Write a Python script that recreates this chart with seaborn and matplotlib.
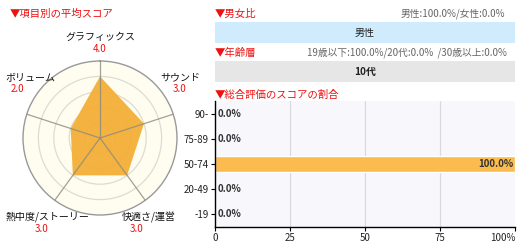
import numpy as np
import pandas as pd
import matplotlib
matplotlib.use("Agg")
import matplotlib.pyplot as plt
import seaborn as sns

# ---- data ----
radar_labels = ["グラフィックス", "サウンド", "快適さ/運営", "熱中度/ストーリー", "ボリューム"]
radar_values = [4.0, 3.0, 3.0, 3.0, 2.0]
score_bins = ["90-", "75-89", "50-74", "20-49", "-19"]
score_pcts = [0.0, 0.0, 100.0, 0.0, 0.0]
gender_text = "男性:100.0%/女性:0.0%"
gender_major = "男性"
age_text = "19歳以下:100.0%/20代:0.0%  /30歳以上:0.0%"
age_major = "10代"
x_ticks = [0, 25, 50, 75, 100]
x_ticklabels = ["0", "25", "50", "75", "100%"]

sns.set_theme(style="white")
FAM = ["Noto Sans CJK JP", "DejaVu Sans"]
plt.rcParams["font.family"] = FAM

W, H = 525, 246
fig = plt.figure(figsize=(W / 100, H / 100), dpi=100)
fig.patch.set_facecolor("white")

def px(x, y):
    return x / W, 1 - y / H

RED = "#ee1111"
GREY_T = "#666666"

# ---- headers ----
for (x, y, t) in [(10, 14, "▼項目別の平均スコア"), (215, 14, "▼男女比"),
                  (215, 53, "▼年齢層"), (215, 95, "▼総合評価のスコアの割合")]:
    fig.text(*px(x, y), t, color=RED, fontsize=7.5, va="center", ha="left")

# ---- radar ----
cx, cy, R = 100, 138, 77
rax = fig.add_axes([(cx - R) / W, 1 - (cy + R) / H, 2 * R / W, 2 * R / H], projection="polar")
rax.set_theta_zero_location("N")
rax.set_theta_direction(-1)
rax.set_ylim(0, 5)
rax.set_facecolor("#fffdf0")
n = len(radar_labels)
ang = np.arange(n) * 2 * np.pi / n
for r in [1, 2, 3, 4]:
    t = np.linspace(0, 2 * np.pi, 300)
    rax.plot(t, np.full_like(t, r), color="#dcdcd0", lw=0.9, zorder=1)
vals = np.array(radar_values + [radar_values[0]])
angs = np.append(ang, ang[0])
rax.fill(angs, vals, color="#f4ae36", alpha=0.95, lw=0, zorder=2)
for a in ang:
    rax.plot([a, a], [0, 5], color="#8a8a80", lw=0.9, zorder=3, alpha=0.8)
rax.set_xticks([])
rax.set_yticks([])
rax.grid(False)
rax.spines["polar"].set_color("#999999")
rax.spines["polar"].set_linewidth(1.0)

label_pos = [(100, 37, 100, 49), (180, 77, 180, 89), (149, 217, 137, 229),
             (48, 217, 42, 229), (30, 77, 17, 89)]
for (lx, ly, vx, vy), lab, v in zip(label_pos, radar_labels, radar_values):
    fig.text(*px(lx, ly), lab, fontsize=7.2, ha="center", va="center", color="#111111")
    fig.text(*px(vx, vy), f"{v:.1f}", fontsize=7, ha="center", va="center", color=RED)

# ---- gender / age bars ----
def band(y0, y1, color, text, bold=False):
    ax = fig.add_axes([215 / W, 1 - y1 / H, 300 / W, (y1 - y0) / H])
    ax.set_facecolor(color)
    ax.set_xticks([]); ax.set_yticks([])
    for s in ax.spines.values():
        s.set_visible(False)
    ax.text(0.5, 0.5, text, transform=ax.transAxes, ha="center", va="center",
            fontsize=7.2, color="#222222", fontweight="bold" if bold else "normal")

fig.text(*px(505, 14), gender_text, fontsize=7, ha="right", va="center", color=GREY_T)
band(22, 43, "#d0ecfc", gender_major)
fig.text(*px(507, 53), age_text, fontsize=7, ha="right", va="center", color=GREY_T)
band(61, 82, "#e6e6e6", age_major, bold=True)

# ---- score distribution ----
bax = fig.add_axes([215 / W, 1 - 227 / H, 300 / W, 126 / H])
df = pd.DataFrame({"bin": score_bins, "pct": score_pcts})
sns.barplot(data=df, x="pct", y="bin", order=score_bins, color="#fbbb4e",
            saturation=1, width=0.64, ax=bax, zorder=2)
bax.set_facecolor("#f7f7fc")
bax.set_xlim(0, 100)
bax.set_xticks(x_ticks)
bax.set_xticklabels(x_ticklabels)
bax.get_xticklabels()[-1].set_horizontalalignment("right")
bax.set_xlabel(""); bax.set_ylabel("")
for g in [25, 50, 75]:
    bax.axvline(g, color="#dadade", lw=0.9, zorder=1)
for s in ["top", "right"]:
    bax.spines[s].set_visible(False)
for s in ["left", "bottom"]:
    bax.spines[s].set_color("black")
    bax.spines[s].set_linewidth(1.0)
bax.tick_params(axis="both", labelsize=7, length=3, width=0.8, color="black",
                pad=1.5, colors="#222222", left=True, bottom=True)
for lbl in bax.get_xticklabels():
    lbl.set_color("#222222")
bax.get_xticklabels()[-1].set_horizontalalignment("right")
for i, v in enumerate(score_pcts):
    if v >= 99:
        bax.text(v - 0.5, i, f"{v:.1f}%", ha="right", va="center", fontsize=7,
                 color="#333333", fontweight="bold", zorder=3)
    else:
        bax.text(v + 0.8, i, f"{v:.1f}%", ha="left", va="center", fontsize=7,
                 color="#333333", fontweight="bold", zorder=3)

fig.savefig("out.png", dpi=100)
